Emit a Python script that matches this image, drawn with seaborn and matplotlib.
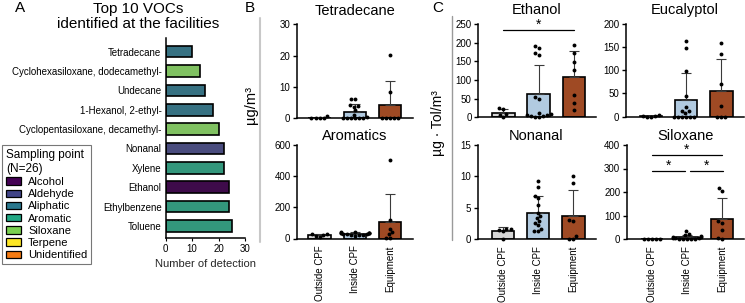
import warnings
warnings.filterwarnings("ignore")
import matplotlib
matplotlib.use("Agg")
import matplotlib.pyplot as plt
from matplotlib.lines import Line2D
from matplotlib.patches import Patch
import numpy as np
import pandas as pd
import seaborn as sns

# ---------------- data ----------------
vocs = ["Tetradecane", "Cyclohexasiloxane, dodecamethyl-", "Undecane",
        "1-Hexanol, 2-ethyl-", "Cyclopentasiloxane, decamethyl-", "Nonanal",
        "Xylene", "Ethanol", "Ethylbenzene", "Toluene"]
detections = [10, 13, 15, 18, 20, 22, 22, 24, 24, 25]
voc_class = ["Aliphatic", "Siloxane", "Aliphatic", "Aliphatic", "Siloxane",
             "Aldehyde", "Aromatic", "Alcohol", "Aromatic", "Aromatic"]
class_names = ["Alcohol", "Aldehyde", "Aliphatic", "Aromatic", "Siloxane",
               "Terpene", "Unidentified"]
class_colors = ["#440154", "#414487", "#2a788e", "#22a884", "#7ad151",
                "#fde725", "#f47a12"]

groups = ["Outside CPF", "Inside CPF", "Equipment"]
group_colors = ["#d6d6d6", "#a9cbe8", "#b4420f"]

tetradecane = {
    "Outside CPF": [0, 0.7, 0, 0, 0],
    "Inside CPF": [6.3, 6.3, 4.2, 4.0, 3.7, 2.5, 1.2, 0.5, 0, 0, 0, 0, 0, 0],
    "Equipment": [20.3, 8.5, 0, 0, 0, 0, 0],
}
aromatics = {
    "Outside CPF": [10, 30, 25, 30, 15],
    "Inside CPF": [40, 35, 38, 30, 25, 42, 20, 35, 28, 33, 15, 25, 30, 38],
    "Equipment": [505, 118, 58, 40, 27, 3, 3],
}
ethanol = {
    "Outside CPF": [0, 22, 24, 8, 6],
    "Inside CPF": [190, 185, 172, 168, 55, 50, 12, 8, 6, 5, 4, 3, 2, 1],
    "Equipment": [193, 171, 148, 126, 60, 37, 20],
}
eucalyptol = {
    "Outside CPF": [0, 3, 1, 2, 0],
    "Inside CPF": [162, 148, 97, 45, 20, 13, 12, 8, 0, 0, 0, 0, 0, 0],
    "Equipment": [159, 135, 70, 24, 0, 0, 0],
}
nonanal = {
    "Outside CPF": [1.6, 1.5, 1.6, 1.3, 0.0],
    "Inside CPF": [9.2, 8.3, 6.9, 6.6, 5.4, 4.1, 3.6, 3.3, 2.8, 2.6, 2.2, 1.6, 1.3, 1.2],
    "Equipment": [10.0, 9.0, 3.0, 2.8, 0.5, 0.0, 0.0],
}
siloxane = {
    "Outside CPF": [0, 0, 0, 0, 0],
    "Inside CPF": [35, 22, 15, 12, 10, 8, 5, 5, 3, 2, 0, 0, 0, 0],
    "Equipment": [215, 205, 75, 70, 40, 5, 0],
}

# ---------------- style ----------------
sns.set_theme(style="ticks")
plt.rcParams["font.family"] = ["Liberation Sans", "DejaVu Sans"]
plt.rcParams["axes.linewidth"] = 1.1
plt.rcParams["axes.edgecolor"] = "black"
plt.rcParams["xtick.color"] = "black"
plt.rcParams["ytick.color"] = "black"
plt.rcParams["text.color"] = "black"

W, H = 745, 303
fig = plt.figure(figsize=(W / 100, H / 100), dpi=100)


def px_axes(left, top, right, bottom):
    return fig.add_axes([left / W, 1 - bottom / H, (right - left) / W, (bottom - top) / H])


# ---------------- panel A ----------------
axA = px_axes(165.7, 38, 245, 238)
dfA = pd.DataFrame({"voc": vocs, "n": detections, "cls": voc_class})
sns.barplot(data=dfA, x="n", y="voc", hue="cls", order=vocs,
            hue_order=class_names, palette=dict(zip(class_names, class_colors)),
            dodge=False, width=0.6, edgecolor="black", linewidth=1.2,
            legend=False, ax=axA)
axA.set_xlim(0, 30)
axA.set_ylim(9.62, -0.7)
axA.set_xticks([0, 10, 20, 30])
axA.tick_params(axis="x", labelsize=7, length=2, width=0.8, pad=2)
axA.tick_params(axis="y", labelsize=7, length=0, pad=3)
axA.set_ylabel("")
axA.set_xlabel("Number of detection", fontsize=8, labelpad=4)
sns.despine(ax=axA)
fig.text(138 / W, 1 - 2 / H, "Top 10 VOCs\nidentified at the facilities",
         fontsize=11, ha="center", va="top", linespacing=1.05)

handles = [Patch(facecolor=c, edgecolor="black", linewidth=0.9) for c in class_colors]
leg = fig.legend(handles, class_names, title="Sampling point\n(N=26)",
                 loc="upper left", bbox_to_anchor=(2 / W, 1 - 145 / H),
                 fontsize=8, title_fontsize=8.5, frameon=True, fancybox=False,
                 edgecolor="#555555", handlelength=1.4, handleheight=0.65,
                 labelspacing=0.2, handletextpad=0.6, borderpad=0.35,
                 borderaxespad=0)
leg.get_frame().set_linewidth(0.8)
leg._legend_box.align = "left"


# ---------------- bar/dot panels ----------------
def bar_panel(ax, data, ymax, yticks, title, pad, bottom_row, xlim):
    rows = [(g, v) for g in groups for v in data[g]]
    df = pd.DataFrame(rows, columns=["group", "value"])
    sns.barplot(data=df, x="group", y="value", order=groups, hue="group",
                hue_order=groups, palette=dict(zip(groups, group_colors)),
                errorbar=None, width=0.64, edgecolor="black", linewidth=1.2,
                legend=False, ax=ax)
    means = np.array([np.mean(data[g]) for g in groups])
    sds = np.array([np.std(data[g], ddof=1) for g in groups])
    ax.errorbar(np.arange(3), means, yerr=[np.zeros(3), sds], fmt="none",
                ecolor="#3a3a3a", elinewidth=0.8, capsize=3.5, capthick=0.8,
                zorder=3)
    n_before = len(ax.collections)
    sns.swarmplot(data=df, x="group", y="value", order=groups, color="black",
                  size=2.8, ax=ax, zorder=4)
    for coll in ax.collections[n_before:]:
        coll.set_clip_on(False)
    ax.set_xlim(*xlim)
    ax.set_ylim(0, ymax)
    ax.set_yticks(yticks)
    ax.set_xlabel("")
    ax.set_ylabel("")
    ax.tick_params(axis="y", labelsize=7, length=3, width=1.0, pad=1.5)
    ax.tick_params(axis="x", labelsize=7, length=0, pad=5)
    if bottom_row:
        ax.set_xticks(range(3))
        ax.set_xticklabels(groups, rotation=90)
    else:
        ax.set_xticks([])
    sns.despine(ax=ax)
    ax.set_title(title, fontsize=10.5, pad=pad)
    return ax


xlimB = (-0.65, 2.65)
xlimC = (-0.72, 2.63)
axB1 = px_axes(296.7, 24.3, 413, 118.3)
bar_panel(axB1, tetradecane, 30, [0, 10, 20, 30], "Tetradecane", 7, False, xlimB)
axB2 = px_axes(296.7, 145, 413, 238.5)
bar_panel(axB2, aromatics, 600, [0, 200, 400, 600], "Aromatics", 3.5, True, xlimB)

axC1 = px_axes(478, 24, 596, 117.3)
bar_panel(axC1, ethanol, 250, [0, 50, 100, 150, 200, 250], "Ethanol", 7, False, xlimC)
axC2 = px_axes(625.5, 23.5, 743.5, 116.7)
bar_panel(axC2, eucalyptol, 200, [0, 50, 100, 150, 200], "Eucalyptol", 7, False, xlimC)
axC3 = px_axes(477.5, 145, 595.5, 239)
bar_panel(axC3, nonanal, 15, [0, 5, 10, 15], "Nonanal", 3.5, True, xlimC)
axC4 = px_axes(626.5, 145, 744, 239)
bar_panel(axC4, siloxane, 400, [0, 100, 200, 300, 400], "Siloxane", 3.5, True, xlimC)


def sig(ax, x0, x1, y):
    ax.plot([x0, x1], [y, y], color="black", lw=0.9, clip_on=False, zorder=5)
    ax.annotate("*", xy=((x0 + x1) / 2, y), xytext=(0, 0.8),
                textcoords="offset points", ha="center", va="baseline",
                fontsize=10, annotation_clip=False)


sig(axC1, 0, 2, 234)
sig(axC4, 0, 2, 357)
sig(axC4, 0, 0.96, 290)
sig(axC4, 1.08, 2.04, 290)

# ---------------- labels & decorations ----------------
fig.text(251 / W, 1 - 105 / H, "µg/m³", rotation=90, ha="center",
         va="center", fontsize=10.5)
fig.text(438 / W, 1 - 123 / H, "µg · Tol/m³", rotation=90, ha="center",
         va="center", fontsize=10)
fig.add_artist(Line2D([260 / W, 260 / W], [1 - 18 / H, 1 - 242 / H],
                      color="#c8c8c8", lw=1.5))
fig.add_artist(Line2D([451.7 / W, 451.7 / W], [1 - 16 / H, 1 - 240 / H],
                      color="#9a9a9a", lw=1.0))
fig.text(20 / W, 1 - 8 / H, "A", fontsize=11, ha="center", va="center")
fig.text(250 / W, 1 - 8 / H, "B", fontsize=11, ha="center", va="center")
fig.text(438 / W, 1 - 8 / H, "C", fontsize=11, ha="center", va="center")

fig.savefig("out.png", dpi=100)
